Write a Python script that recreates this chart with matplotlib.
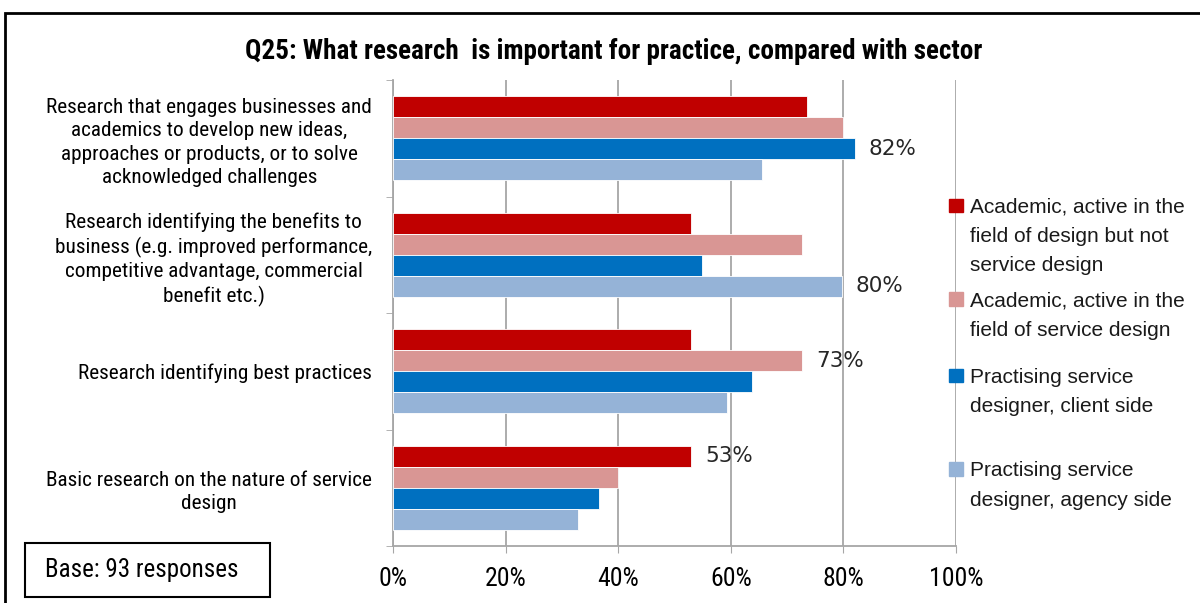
import matplotlib
matplotlib.use("Agg")
import matplotlib.pyplot as plt
from matplotlib import font_manager
from matplotlib.patches import Rectangle
from matplotlib.ticker import FixedLocator, PercentFormatter
import numpy as np

# pick a condensed face if there is one
names = {f.name for f in font_manager.fontManager.ttflist}
narrow = "Liberation Sans"
for cand in ["Liberation Sans Narrow", "Arial Narrow", "Roboto Condensed",
             "DejaVu Sans Condensed", "Open Sans Condensed"]:
    if cand in names:
        narrow = cand
        break

categories = [
    "Research that engages businesses and\nacademics to develop new ideas,\napproaches or products, or to solve\nacknowledged challenges",
    "Research identifying the benefits to\nbusiness (e.g. improved performance,\ncompetitive advantage, commercial\nbenefit etc.)",
    "Research identifying best practices",
    "Basic research on the nature of service\ndesign",
]
series = [
    "Academic, active in the\nfield of design but not\nservice design",
    "Academic, active in the\nfield of service design",
    "Practising service\ndesigner, client side",
    "Practising service\ndesigner, agency side",
]
academic_other = [73.5, 53, 53, 53]
academic_sd = [80, 72.7, 72.7, 40]
client_side = [82, 54.8, 63.8, 36.5]
agency_side = [65.5, 79.7, 59.4, 32.8]
values = [academic_other, academic_sd, client_side, agency_side]
colors = ["#C00000", "#D99694", "#0070C0", "#95B3D7"]

# (series index, category index) of the bars that carry a value label
labelled = [(2, 0), (3, 1), (1, 2), (0, 3)]

fig = plt.figure(figsize=(12, 6.03), dpi=100)
ax = fig.add_axes([0.3275, 0.0945, 0.4692, 0.7728])

y = np.arange(len(categories))
h = 0.18
for i, (vals, c) in enumerate(zip(values, colors)):
    ax.barh(y + (i - 1.5) * h, vals, height=h, color=c, edgecolor="white",
            linewidth=0.6, zorder=3)

for si, ci in labelled:
    v = values[si][ci]
    ax.text(v + 2.4, y[ci] + (si - 1.5) * h, f"{round(v):.0f}%", va="center",
            ha="left", fontsize=15.5, color="#262626", family="DejaVu Sans",
            zorder=4)

ax.set_xlim(0, 100)
ax.set_ylim(3.5, -0.5)
ax.xaxis.set_major_locator(FixedLocator([0, 20, 40, 60, 80, 100]))
ax.xaxis.set_major_formatter(PercentFormatter(decimals=0))
ax.grid(axis="x", color="#A6A6A6", linewidth=1.3, zorder=0)
ax.tick_params(axis="x", length=5, color="#A6A6A6", pad=10, labelsize=18.5)
for lab in ax.get_xticklabels():
    lab.set_family(narrow)

ax.set_yticks(y)
ax.set_yticklabels(categories, fontsize=15.3, family=narrow, ha="right",
                   multialignment="center", linespacing=1.3)
ax.tick_params(axis="y", which="major", length=0, pad=15)
ax.yaxis.set_minor_locator(FixedLocator(np.arange(-0.5, 4, 1)))
ax.tick_params(axis="y", which="minor", length=5, color="#A6A6A6")

for s in ["top", "right"]:
    ax.spines[s].set_visible(False)
for s in ["left", "bottom"]:
    ax.spines[s].set_color("#A6A6A6")
    ax.spines[s].set_linewidth(1.3)

fig.text(0.511, 0.915, "Q25: What research  is important for practice, compared with sector",
         ha="center", va="center", fontsize=19.5, fontweight="bold", family=narrow)

# legend drawn by hand so the entries keep their uneven spacing
legend_y = [0.659, 0.504, 0.377, 0.222]
for lab, c, ly in zip(series, colors, legend_y):
    fig.patches.append(Rectangle((0.791, ly - 0.0112), 0.0115, 0.0224,
                                 transform=fig.transFigure, color=c))
    fig.text(0.808, ly + 0.013, lab, ha="left", va="top", fontsize=15,
             family="Liberation Sans", linespacing=1.69, color="#1a1a1a")

# outer frame and the base note
fig.patches.append(Rectangle((0.004, -0.05), 1.05, 1.028, transform=fig.transFigure,
                             fill=False, edgecolor="black", linewidth=2))
fig.patches.append(Rectangle((0.0208, 0.01), 0.204, 0.0896, transform=fig.transFigure,
                             fill=False, edgecolor="black", linewidth=1.5))
fig.text(0.1185, 0.0547, "Base: 93 responses", ha="center", va="center",
         fontsize=18, family=narrow)

fig.savefig("out.png", dpi=100)
